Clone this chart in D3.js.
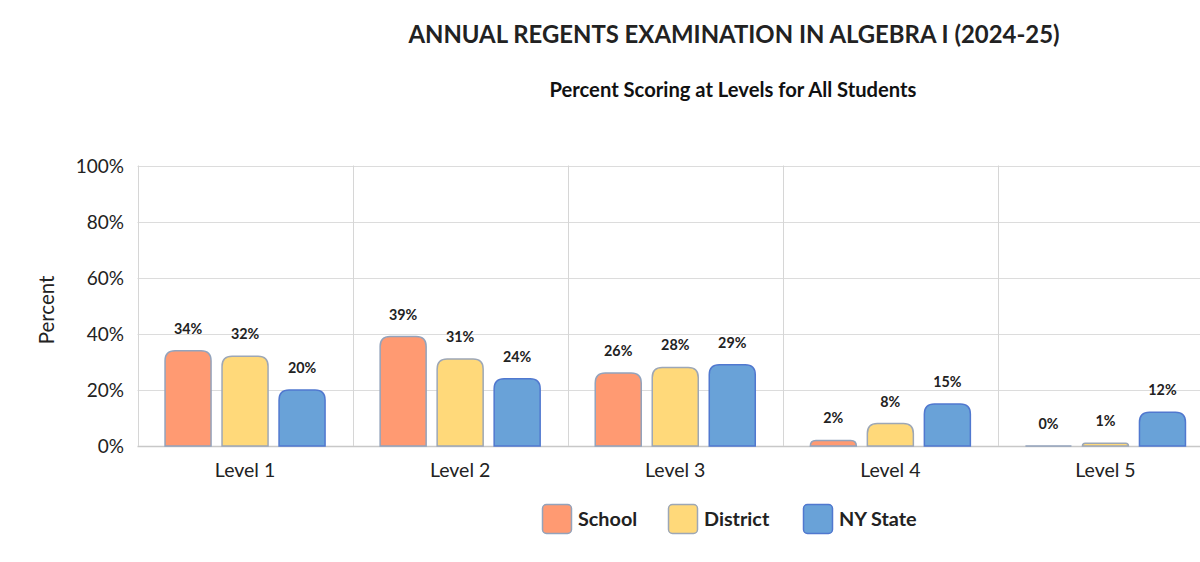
<!DOCTYPE html>
<html><head><meta charset="utf-8">
<script src="https://cdn.jsdelivr.net/npm/d3@7"></script>
<style>
html,body{margin:0;padding:0;background:#fff;overflow:hidden}
svg{display:block;font-family:Lato,"Open Sans",sans-serif}
</style></head>
<body><svg id="c" width="1200" height="562"></svg>
<script>
const categories = ["Level 1","Level 2","Level 3","Level 4","Level 5"];
const seriesNames = ["School","District","NY State"];
const school = [34,39,26,2,0];
const district = [32,31,28,8,1];
const nyState = [20,24,29,15,12];
const yTicks = [0,20,40,60,80,100];
const titleText = "ANNUAL REGENTS EXAMINATION IN ALGEBRA I (2024-25)";
const subtitleText = "Percent Scoring at Levels for All Students";
const yLabel = "Percent";

const fills = ["#FF9A72","#FFD97A","#69A2D8"];
const strokes = ["#93A3BC","#9DA7B6","#5078CF"];
const seriesValues = [school, district, nyState];

const svg = d3.select("#c");
const plotLeft = 137.5, plotRight = 1213, plotTop = 165.5, plotBottom = 446;

const x = d3.scaleBand().domain(categories).range([plotLeft,plotRight]).padding(0);
const xs = d3.scaleBand().domain(seriesNames).range([0,x.bandwidth()]).paddingInner(0.193).paddingOuter(0.483);
const y = d3.scaleLinear().domain([0,100]).range([plotBottom,plotTop]);

// title
svg.append("text").attr("x",734).attr("y",43).attr("text-anchor","middle")
  .attr("font-size",23.9).attr("font-weight","bold").attr("fill","#222").text(titleText);
svg.append("text").attr("x",733).attr("y",97).attr("text-anchor","middle")
  .attr("font-size",20.2).attr("font-weight","bold").attr("fill","#111").text(subtitleText);

// gridlines
const g = svg.append("g");
g.selectAll("line.h").data(yTicks).join("line")
  .attr("x1",plotLeft).attr("x2",plotRight).attr("y1",d=>Math.round(y(d))+0.5).attr("y2",d=>Math.round(y(d))+0.5)
  .attr("stroke",d=>d===0?"#c8c8c8":"#dcdcdc").attr("stroke-width",d=>d===0?1.5:1);
g.selectAll("line.v").data(categories).join("line")
  .attr("x1",d=>Math.round(x(d))+0.5).attr("x2",d=>Math.round(x(d))+0.5)
  .attr("y1",plotTop).attr("y2",plotBottom)
  .attr("stroke","#d6d6d6");

// y tick labels
svg.append("g").selectAll("text").data(yTicks).join("text")
  .attr("x",124).attr("y",d=>y(d)+7).attr("text-anchor","end")
  .attr("font-size",19).attr("fill","#222").text(d=>d+"%");

svg.append("text").attr("transform","translate(54,310) rotate(-90)")
  .attr("text-anchor","middle").attr("font-size",20.5).attr("fill","#222").text(yLabel);

// x labels
svg.append("g").selectAll("text").data(categories).join("text")
  .attr("x",d=>x(d)+x.bandwidth()/2).attr("y",477).attr("text-anchor","middle")
  .attr("font-size",19.5).attr("fill","#222").text(d=>d);

function topRounded(x0,y0,w,h,r){
  r = Math.min(r, h, w/2);
  if (h <= 0) return `M${x0},${y0}h${w}`;
  return `M${x0},${y0+h}V${y0+r}Q${x0},${y0} ${x0+r},${y0}H${x0+w-r}Q${x0+w},${y0} ${x0+w},${y0+r}V${y0+h}Z`;
}

const data = [];
categories.forEach((c,i)=>seriesNames.forEach((s,j)=>data.push({c,s,j,v:seriesValues[j][i]})));

const bars = svg.append("g");
bars.selectAll("path").data(data).join("path")
  .attr("d",d=>{
    const x0 = x(d.c)+xs(d.s), w = xs.bandwidth();
    const y0 = y(d.v), h = plotBottom - y0;
    return topRounded(x0,y0,w,h,10);
  })
  .attr("fill",d=>fills[d.j]).attr("stroke",d=>strokes[d.j]).attr("stroke-width",1.5);

svg.append("g").selectAll("text").data(data).join("text")
  .attr("x",d=>x(d.c)+xs(d.s)+xs.bandwidth()/2).attr("y",d=>y(d.v)-17)
  .attr("text-anchor","middle").attr("font-size",14.3).attr("font-weight","bold").attr("fill","#222")
  .text(d=>d.v+"%");

// legend
const legX = [542,668,803];
const leg = svg.append("g");
seriesNames.forEach((s,j)=>{
  leg.append("rect").attr("x",legX[j]+0.5).attr("y",504.5).attr("width",29).attr("height",29).attr("rx",4)
    .attr("fill",fills[j]).attr("stroke",strokes[j]).attr("stroke-width",1.5);
  leg.append("text").attr("x",legX[j]+36).attr("y",526).attr("font-size",19.8).attr("font-weight","bold")
    .attr("fill","#222").text(s);
});
</script></body></html>
